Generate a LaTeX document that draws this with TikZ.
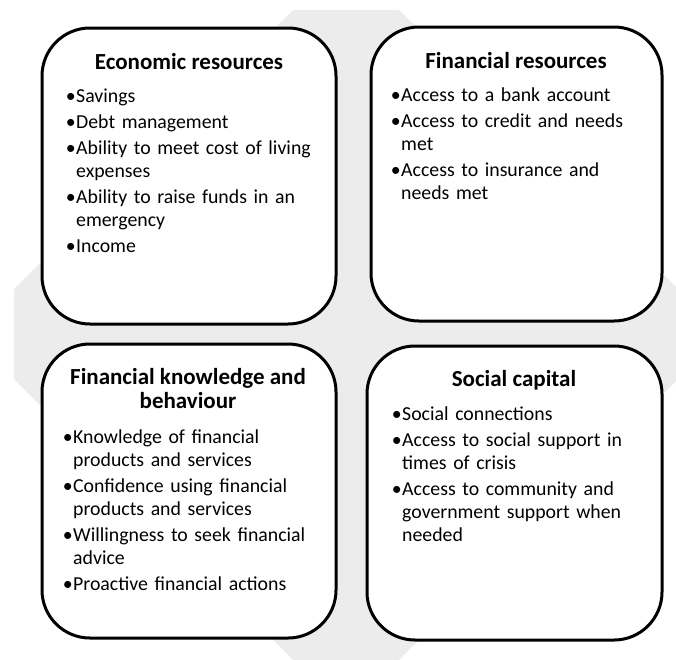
\documentclass[tikz,border=0pt]{standalone}
\usepackage{fontspec}
\setmainfont{Carlito}
\definecolor{bggray}{RGB}{236,236,236}
\newcommand{\bul}{\makebox[11pt][c]{\textbullet}}
\newcommand{\itm}[1]{\noindent\hangindent=11pt\hangafter=1 \bul#1\par}
\newcommand{\bodyfont}{\fontsize{19.8}{23}\selectfont\setlength{\parskip}{3.2pt}}
\newcommand{\titlefont}{\fontsize{23}{24}\selectfont\bfseries}
\tikzset{
  panel/.style={draw=black, line width=3pt, rounded corners=48pt, fill=white, inner sep=0pt},
  ttl/.style={anchor=base, inner sep=0pt, font=\titlefont, align=center},
  body/.style={anchor=base west, inner sep=0pt, text width=280pt, font=\bodyfont, align=left}
}
\begin{document}
\begin{tikzpicture}[x=1pt, y=-1pt]
\useasboundingbox (0,0) rectangle (676,659);
\begin{scope}
\clip (0,0) rectangle (676,659);
\fill[bggray] (293,10) -- (399,10) -- (678,289) -- (678,379) -- (399,660) -- (293,660) -- (14,379) -- (14,289) -- cycle;
\end{scope}
% panels
\node[panel, minimum width=294pt, minimum height=296pt] (eco) at (189,176) {};
\node[panel, minimum width=291pt, minimum height=294pt] (fin) at (516.5,174) {};
\node[panel, minimum width=294pt, minimum height=294pt] (know) at (189,491) {};
\node[panel, minimum width=295pt, minimum height=294pt] (soc) at (514.5,493) {};
% titles
\node[ttl] (ecot) at (189,69) {Economic resources};
\node[ttl] (fint) at (516,68) {Financial resources};
\node[ttl] (knowt) at (188,408) {Financial knowledge and\\behaviour};
\node[ttl] (soct) at (514,386) {Social capital};
% bodies
\node[body] (ecob) at (65,102) {%
\itm{Savings}
\itm{Debt management}
\itm{Ability to meet cost of living\break expenses}
\itm{Ability to raise funds in an\break emergency}
\itm{Income}};
\node[body] (finb) at (390,101) {%
\itm{Access to a bank account}
\itm{Access to credit and needs\break met}
\itm{Access to insurance and\break needs met}};
\node[body] (knowb) at (62,443) {%
\itm{Knowledge of financial\break products and services}
\itm{Confidence using financial\break products and services}
\itm{Willingness to seek financial\break advice}
\itm{Proactive financial actions}};
\node[body] (socb) at (391,420) {%
\itm{Social connections}
\itm{Access to social support in\break times of crisis}
\itm{Access to community and\break government support when\break needed}};
\end{tikzpicture}
\end{document}
